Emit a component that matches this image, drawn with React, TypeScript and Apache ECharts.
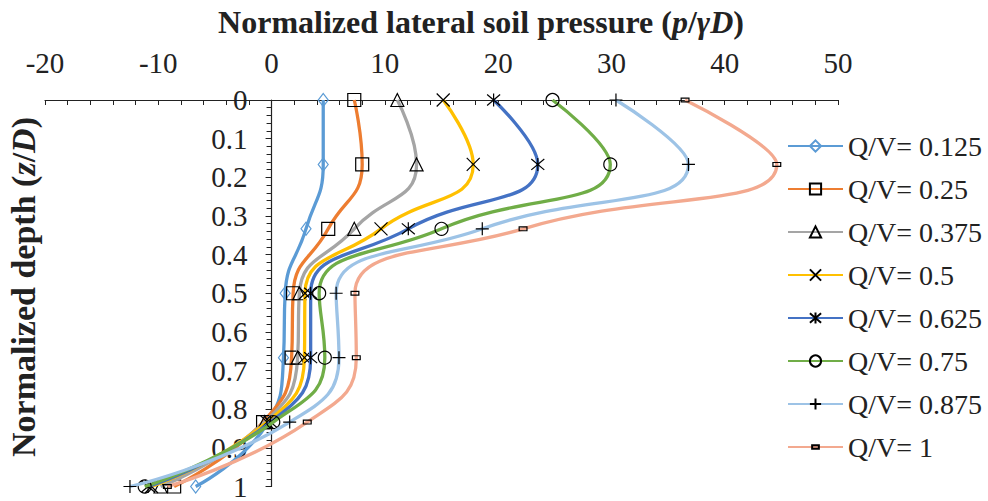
import React, { useEffect, useRef } from "react";
import * as echarts from "echarts";

// Normalized depth z/D at which pressures were sampled
const depths = [0, 0.1667, 0.3333, 0.5, 0.6667, 0.8333, 1];

const seriesNames = [
  "Q/V= 0.125",
  "Q/V= 0.25",
  "Q/V= 0.375",
  "Q/V= 0.5",
  "Q/V= 0.625",
  "Q/V= 0.75",
  "Q/V= 0.875",
  "Q/V= 1",
];

// Normalized lateral soil pressure p/γD per load ratio
const qv0125 = [4.56, 4.56, 3.04, 1.2, 1.05, -0.3, -6.7];
const qv025 = [7.3, 8.0, 5.0, 1.9, 1.77, -0.75, -8.6];
const qv0375 = [11.1, 12.8, 7.3, 2.45, 2.3, -0.6, -9.8];
const qv05 = [15.15, 17.8, 9.66, 2.95, 2.9, -0.4, -10.6];
const qv0625 = [19.6, 23.5, 12.07, 3.45, 3.45, -0.1, -10.9];
const qv075 = [24.8, 29.9, 15.0, 4.2, 4.7, 0.15, -11.2];
const qv0875 = [30.4, 36.8, 18.6, 5.7, 5.95, 1.6, -12.5];
const qv1 = [36.5, 44.6, 22.2, 7.36, 7.48, 3.15, -9.2];

const xTicks = { min: -20, max: 50, interval: 10 };
const yTicks = { min: 0, max: 1, interval: 0.1 };

const lineColors = [
  "#5B9BD5",
  "#ED7D31",
  "#A5A5A5",
  "#FFC000",
  "#4472C4",
  "#70AD47",
  "#9DC3E6",
  "#F3A98F",
];

// Marker shapes; the dash keeps a padded 10x10 box so it stays small in the legend too
const markers: { symbol: string; size: number | number[]; border: string }[] = [
  { symbol: "diamond", size: [10, 13], border: "#5B9BD5" },
  { symbol: "rect", size: 13, border: "#000" },
  { symbol: "triangle", size: 13, border: "#000" },
  { symbol: "path://M0,0L10,10M10,0L0,10", size: 13, border: "#000" },
  { symbol: "path://M0,0L10,10M10,0L0,10M5,-1L5,11", size: 13, border: "#000" },
  { symbol: "circle", size: 13, border: "#000" },
  { symbol: "path://M5,0L5,10M0,5L10,5", size: 13, border: "#000" },
  { symbol: "path://M0,0M10,10M2,3.5L8,3.5L8,6.5L2,6.5Z", size: 13, border: "#000" },
];

const SERIF = "Liberation Serif";
const W = 988;
const H = 501;
const GRID = { left: 45, right: 150, top: 100, bottom: 14 };

export default function App() {
  const ref = useRef<HTMLDivElement>(null);

  useEffect(() => {
    if (!ref.current) return;
    const chart = echarts.init(ref.current, undefined, { renderer: "svg" });
    const values = [qv0125, qv025, qv0375, qv05, qv0625, qv075, qv0875, qv1];

    // the depth axis sits on p/γD = 0
    const plotW = W - GRID.left - GRID.right;
    const zeroOffset = ((0 - xTicks.min) / (xTicks.max - xTicks.min)) * plotW;

    const series = values.map((vals, i) => ({
      name: seriesNames[i],
      type: "line",
      smooth: 0.5,
      data: vals.map((v, k) => [v, depths[k]]),
      symbol: markers[i].symbol,
      symbolSize: markers[i].size,
      showAllSymbol: true,
      lineStyle: { color: lineColors[i], width: 3.3 },
      itemStyle: {
        color: "rgba(255,255,255,0)",
        borderColor: markers[i].border,
        borderWidth: 1.2,
      },
      z: 2 + i,
    }));

    const rich = (size: number) => ({
      b: { fontFamily: SERIF, fontSize: size, fontWeight: "bold", fill: "#222" },
      i: {
        fontFamily: SERIF,
        fontSize: size,
        fontWeight: "bold",
        fontStyle: "italic",
        fill: "#222",
      },
    });

    chart.setOption({
      animation: false,
      backgroundColor: "#ffffff",
      grid: { ...GRID, containLabel: false },
      xAxis: {
        type: "value",
        position: "top",
        min: xTicks.min,
        max: xTicks.max,
        interval: xTicks.interval,
        axisLine: { onZero: false, lineStyle: { color: "#222", width: 1.2 } },
        axisTick: { show: true, inside: true, length: 5, lineStyle: { color: "#222" } },
        minorTick: { show: true, splitNumber: 5, length: 5, lineStyle: { color: "#222" } },
        axisLabel: {
          margin: 23,
          fontFamily: SERIF,
          fontSize: 29,
          color: "#222",
        },
        splitLine: { show: false },
      },
      yAxis: {
        type: "value",
        inverse: true,
        position: "left",
        offset: -zeroOffset,
        min: yTicks.min,
        max: yTicks.max,
        interval: yTicks.interval,
        axisLine: { show: true, onZero: false, lineStyle: { color: "#222", width: 1.2 } },
        axisTick: { show: true, length: 6, lineStyle: { color: "#222" } },
        minorTick: { show: true, splitNumber: 5, length: 5, lineStyle: { color: "#222" } },
        axisLabel: {
          margin: 24,
          fontFamily: SERIF,
          fontSize: 29,
          color: "#222",
        },
        splitLine: { show: false },
      },
      legend: {
        orient: "vertical",
        left: 782,
        top: 126,
        itemWidth: 55,
        itemHeight: 14,
        itemGap: 13,
        textStyle: { fontFamily: SERIF, fontSize: 28, lineHeight: 30, color: "#222" },
        data: seriesNames,
      },
      graphic: [
        {
          type: "text",
          x: 481,
          y: 22,
          style: {
            text: "{b|Normalized lateral soil pressure (}{i|p}{b|/}{i|γD}{b|)}",
            align: "center",
            verticalAlign: "middle",
            rich: rich(32),
          },
        },
        {
          type: "text",
          x: 23,
          y: 287,
          rotation: Math.PI / 2,
          style: {
            text: "{b|Normalized depth (}{i|z}{b|/}{i|D}{b|)}",
            align: "center",
            verticalAlign: "middle",
            rich: rich(34),
          },
        },
      ],
      series,
    });

    return () => chart.dispose();
  }, []);

  return (
    <div
      ref={ref}
      style={{ position: "absolute", left: 0, top: 0, width: W, height: H }}
    />
  );
}
